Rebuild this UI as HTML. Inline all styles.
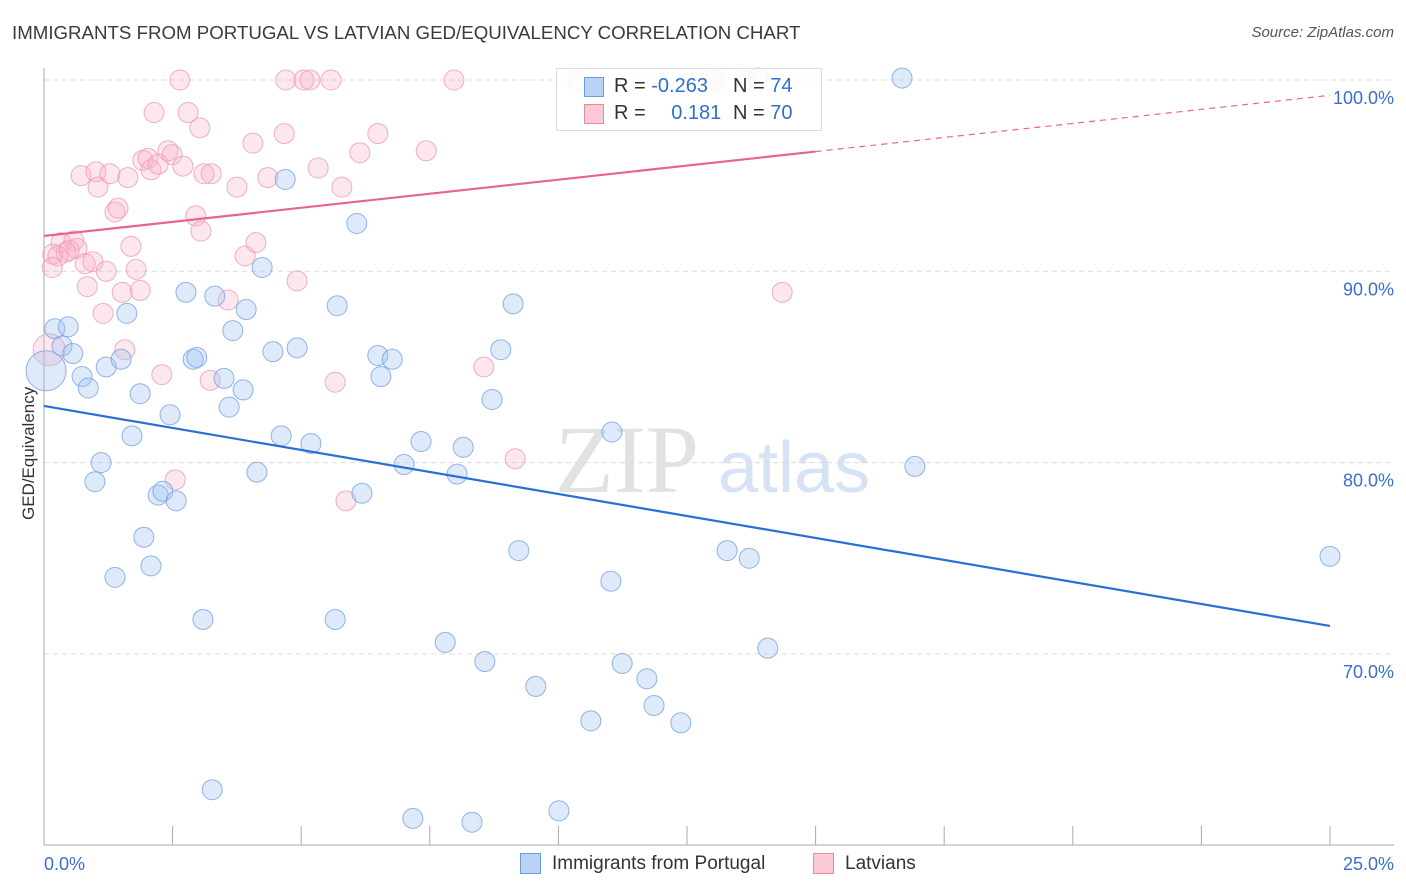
<!DOCTYPE html>
<html><head><meta charset="utf-8">
<style>
body{margin:0;background:#fff;font-family:"Liberation Sans",sans-serif;}
#wrap{position:relative;width:1406px;height:892px;overflow:hidden;}
.t{position:absolute;white-space:nowrap;}
</style></head>
<body>
<div id="wrap">
<div class="t" style="left:12px;top:22px;font-size:18.7px;color:#3a3a3a;">IMMIGRANTS FROM PORTUGAL VS LATVIAN GED/EQUIVALENCY CORRELATION CHART</div>
<div class="t" style="right:12px;top:24px;font-size:15px;color:#555;font-style:italic;">Source: ZipAtlas.com</div>
<svg id="plot" width="1406" height="892" style="position:absolute;left:0;top:0"></svg>
<div class="t" style="left:-36px;top:445px;font-size:17px;color:#333;transform:rotate(-90deg);transform-origin:center;width:130px;text-align:center;">GED/Equivalency</div>
<div style="position:absolute;left:556px;top:68px;width:264px;height:61px;border:1px solid #ddd;background:rgba(255,255,255,0.85);font-size:20px;">
  <div style="position:absolute;left:27px;top:8px;width:18px;height:18px;background:#b9d2f5;border:1px solid #6a9be0"></div>
  <div class="t" style="left:57px;top:6px;color:#333">R = <span style="color:#2f6fcf">-0.263</span></div>
  <div class="t" style="left:176px;top:6px;color:#333">N = <span style="color:#2f6fcf">74</span></div>
  <div style="position:absolute;left:27px;top:35px;width:18px;height:18px;background:#fcc9d7;border:1px solid #e88aa6"></div>
  <div class="t" style="left:57px;top:33px;color:#333">R = <span style="color:#2f6fcf;margin-left:20px">0.181</span></div>
  <div class="t" style="left:176px;top:33px;color:#333">N = <span style="color:#2f6fcf">70</span></div>
</div>
<div style="position:absolute;left:520px;top:853px;">
  <div style="position:absolute;left:0;top:0;width:19px;height:19px;background:#b9d2f5;border:1px solid #6a9be0"></div>
  <div class="t" style="left:32px;top:0;font-size:19px;color:#333">Immigrants from Portugal</div>
</div>
<div style="position:absolute;left:813px;top:853px;">
  <div style="position:absolute;left:0;top:0;width:19px;height:19px;background:#fcc9d7;border:1px solid #e88aa6"></div>
  <div class="t" style="left:32px;top:0;font-size:19px;color:#333">Latvians</div>
</div>
</div>
<script>
const xTicks=[0,2.5,5,7.5,10,12.5,15,17.5,20,22.5,25];
const yTicks=[100,90,80,70];
const yTickLabels=["100.0%","90.0%","80.0%","70.0%"];
const blueX=[0.04,0.21,0.47,0.35,0.56,0.74,0.86,1.21,1.50,1.61,1.87,1.11,0.99,1.71,2.45,2.22,2.31,2.57,1.94,2.08,1.38,3.09,2.76,3.32,3.93,3.67,2.90,2.97,3.50,3.60,3.87,4.24,4.69,4.45,4.92,4.61,5.19,4.14,5.70,6.08,6.49,6.77,6.55,7.33,7.00,8.15,8.03,6.18,5.66,7.80,8.57,9.56,8.71,8.88,9.12,9.23,11.04,11.02,11.24,11.72,11.86,12.38,10.63,13.28,13.71,14.07,3.27,7.17,8.32,10.01,16.68,16.93,25.0,13.88];
const blueY=[84.8,87.0,87.1,86.1,85.7,84.5,83.9,85.0,85.4,87.8,83.6,80.0,79.0,81.4,82.5,78.3,78.5,78.0,76.1,74.6,74.0,71.8,88.9,88.7,88.0,86.9,85.4,85.5,84.4,82.9,83.8,90.2,94.8,85.8,86.0,81.4,81.0,79.5,88.2,92.5,85.6,85.4,84.5,81.1,79.9,80.8,79.4,78.4,71.8,70.6,69.6,68.3,83.3,85.9,88.3,75.4,81.6,73.8,69.5,68.7,67.3,66.4,66.5,75.4,75.0,70.3,62.9,61.4,61.2,61.8,100.1,79.8,75.1,100.1];
const pinkX=[2.64,4.70,5.05,5.17,5.58,7.97,10.38,13.04,13.63,2.14,2.80,3.03,4.67,4.06,6.49,7.43,5.33,5.79,6.14,4.35,0.72,1.01,1.05,1.28,1.63,1.38,1.44,1.92,2.02,2.08,2.22,2.41,2.49,2.70,3.11,3.25,3.75,2.95,3.05,0.33,0.58,0.64,0.43,0.17,0.27,0.49,0.16,0.80,0.95,1.21,1.15,0.84,1.52,1.87,1.69,1.79,3.91,4.12,4.92,3.58,1.57,2.29,3.23,5.66,8.55,2.55,5.87,9.16,14.35,0.10];
const pinkY=[100,100,100,100,100,100,100,100,100,98.3,98.3,97.5,97.2,96.7,97.2,96.3,95.4,94.4,96.2,94.9,95.0,95.2,94.4,95.1,94.9,93.1,93.3,95.8,95.9,95.3,95.6,96.3,96.1,95.5,95.1,95.1,94.4,92.9,92.1,91.5,91.6,91.2,91.0,90.9,90.8,91.1,90.2,90.4,90.5,90.0,87.8,89.2,88.9,89.0,91.3,90.1,90.8,91.5,89.5,88.5,85.9,84.6,84.3,84.2,85.0,79.1,78.0,80.2,88.9,85.9];
const blueTrend=[82.96,71.46];
const pinkTrend=[91.85,99.2];
const pinkSolidEnd=15;

const NS="http://www.w3.org/2000/svg";
const svg=document.getElementById('plot');
const X=v=>44+v/25*1286;
const Y=v=>80+(100-v)*19.13;
function mk(tag,attrs,parent){const e=document.createElementNS(NS,tag);for(const k in attrs)e.setAttribute(k,attrs[k]);(parent||svg).appendChild(e);return e;}

let wm=mk('text',{x:555,y:492,'font-size':96,fill:'#e2e2e2','font-family':'Liberation Serif, serif'});wm.textContent='ZIP';


let wm2=mk('text',{x:718,y:492,'font-size':72,fill:'#d6e3f5','font-family':'Liberation Sans, sans-serif'});wm2.textContent='atlas';



yTicks.forEach((v,i)=>{
  const g=mk('line',{x1:44,x2:1394,y1:Y(v),y2:Y(v),stroke:'#dcdcdc','stroke-dasharray':'5,4'});
  
  
  const t=mk('text',{x:1394,y:Y(v)+24,'text-anchor':'end','font-size':18,fill:'#3a6fcb','font-family':'Liberation Sans, sans-serif'});
  t.textContent=yTickLabels[i];
  
  
});
const ax=mk('line',{x1:44,x2:44,y1:68,y2:845,stroke:'#aaa'});


const bx=mk('line',{x1:44,x2:1394,y1:845,y2:845,stroke:'#aaa'});


xTicks.forEach(v=>{
  const l=mk('line',{x1:X(v),x2:X(v),y1:826,y2:845,stroke:'#aaa'});
  
  
});
[[0,"0.0%","start",44],[25,"25.0%","end",1394]].forEach(a=>{
  const t=mk('text',{x:a[3],y:870,'text-anchor':a[2],'font-size':18,fill:'#3a6fcb','font-family':'Liberation Sans, sans-serif'});
  t.textContent=a[1];
  
  
});

function dots(xs,ys,fill,stroke,name,bigIdx,bigR){
  xs.forEach((x,i)=>{
    const r=(i===bigIdx)?bigR:10;
    const c=mk('circle',{cx:X(x),cy:Y(ys[i]),r:r,fill:fill,stroke:stroke,'stroke-width':1,'stroke-opacity':0.8});
    
    
  });
}
dots(pinkX,pinkY,'rgba(248,175,198,0.3)','#ee9ab3','latvians-point',69,16);
dots(blueX,blueY,'rgba(160,195,240,0.35)','#74a3e2','portugal-point',0,20);

const bl=mk('line',{x1:X(0),y1:Y(blueTrend[0]),x2:X(25),y2:Y(blueTrend[1]),stroke:'#2a6fd6','stroke-width':2.2});


const pAt=v=>pinkTrend[0]+(pinkTrend[1]-pinkTrend[0])*v/25;
const pl=mk('line',{x1:X(0),y1:Y(pinkTrend[0]),x2:X(pinkSolidEnd),y2:Y(pAt(pinkSolidEnd)),stroke:'#e8648e','stroke-width':2.2});


const pd=mk('line',{x1:X(pinkSolidEnd),y1:Y(pAt(pinkSolidEnd)),x2:X(25),y2:Y(pinkTrend[1]),stroke:'#e8648e','stroke-width':1.2,'stroke-dasharray':'6,5'});


</script>
</body></html>
